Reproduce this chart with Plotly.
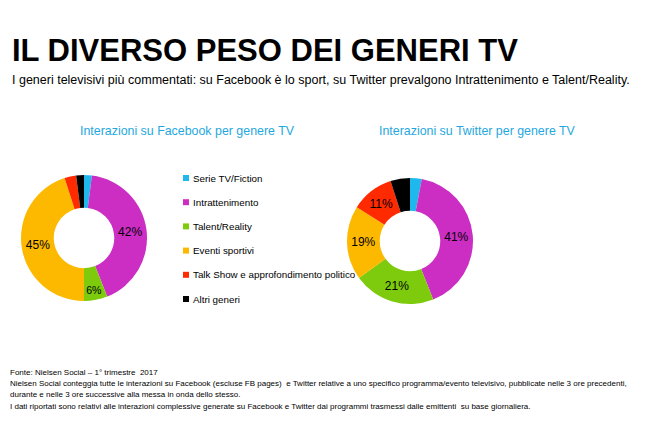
import plotly.graph_objects as go

generi = ["Serie TV/Fiction", "Intrattenimento", "Talent/Reality", "Eventi sportivi",
          "Talk Show e approfondimento politico", "Altri generi"]
colori = ["#1FB8EC", "#CC2EC4", "#7DCB0C", "#FDB800", "#FF2A00", "#000000"]
facebook = [2, 42, 6, 45, 3, 2]
twitter = [3, 41, 21, 19, 11, 5]

W, H = 650, 437
DX, DY = 8, 8  # page margin of the browser


def px(x):
    return (x - DX) / W


def py(y):
    return 1 - (y - DY) / H


def donut(values, cx, cy, r):
    return go.Pie(
        values=values, labels=generi, sort=False, direction="clockwise", rotation=0,
        hole=0.48, marker=dict(colors=colori, line=dict(width=0)),
        text=[f"{v}%" if v >= 5 else "" for v in values], textinfo="text",
        textposition="inside", insidetextorientation="horizontal",
        textfont=dict(color="black", size=12, family="Liberation Sans"),
        domain=dict(x=[px(cx - r), px(cx + r)], y=[py(cy + r), py(cy - r)]),
        showlegend=False,
    )


fig = go.Figure()
fig.add_trace(donut(facebook, 84, 238, 63))
fig.add_trace(donut(twitter, 410, 241, 63))

ann = [
    dict(x=10, y=50, text="<b>IL DIVERSO PESO DEI GENERI TV</b>", size=31, color="black"),
    dict(x=10, y=80, text="I generi televisivi più commentati: su Facebook è lo sport, su Twitter prevalgono Intrattenimento e Talent/Reality.", size=12.5, color="black"),
    dict(x=78, y=131, text="Interazioni su Facebook per genere TV", size=12.4, color="#1FA8E0"),
    dict(x=377, y=131, text="Interazioni su Twitter per genere TV", size=12.4, color="#1FA8E0"),
    dict(x=8, y=372, text="Fonte: Nielsen Social – 1° trimestre  2017", size=8, color="black"),
    dict(x=8, y=383, text="Nielsen Social conteggia tutte le interazioni su Facebook (escluse FB pages)  e Twitter relative a uno specifico programma/evento televisivo, pubblicate nelle 3 ore precedenti,", size=8, color="black"),
    dict(x=8, y=394, text="durante e nelle 3 ore successive alla messa in onda dello stesso.", size=8, color="black"),
    dict(x=8, y=406, text="I dati riportati sono relativi alle interazioni complessive generate su Facebook e Twitter dai programmi trasmessi dalle emittenti  su base giornaliera.", size=8, color="black"),
]
annotations = [dict(xref="paper", yref="paper", x=px(a["x"]), y=py(a["y"]), xanchor="left",
                    yanchor="middle", showarrow=False, text=a["text"],
                    font=dict(size=a["size"], color=a["color"], family="Liberation Sans"))
               for a in ann]

shapes = []
for i, (g, c) in enumerate(zip(generi, colori)):
    y = 178 + i * 24.2
    shapes.append(dict(type="rect", xref="paper", yref="paper", x0=px(183), x1=px(189),
                       y0=py(y + 3), y1=py(y - 3), fillcolor=c, line=dict(width=0)))
    annotations.append(dict(xref="paper", yref="paper", x=px(191), y=py(y), xanchor="left",
                            yanchor="middle", showarrow=False, text=g,
                            font=dict(size=9.8, color="black", family="Liberation Sans")))

fig.update_layout(width=W, height=H, margin=dict(l=0, r=0, t=0, b=0),
                  paper_bgcolor="white", plot_bgcolor="white",
                  annotations=annotations, shapes=shapes)
fig.write_html("out.html")
